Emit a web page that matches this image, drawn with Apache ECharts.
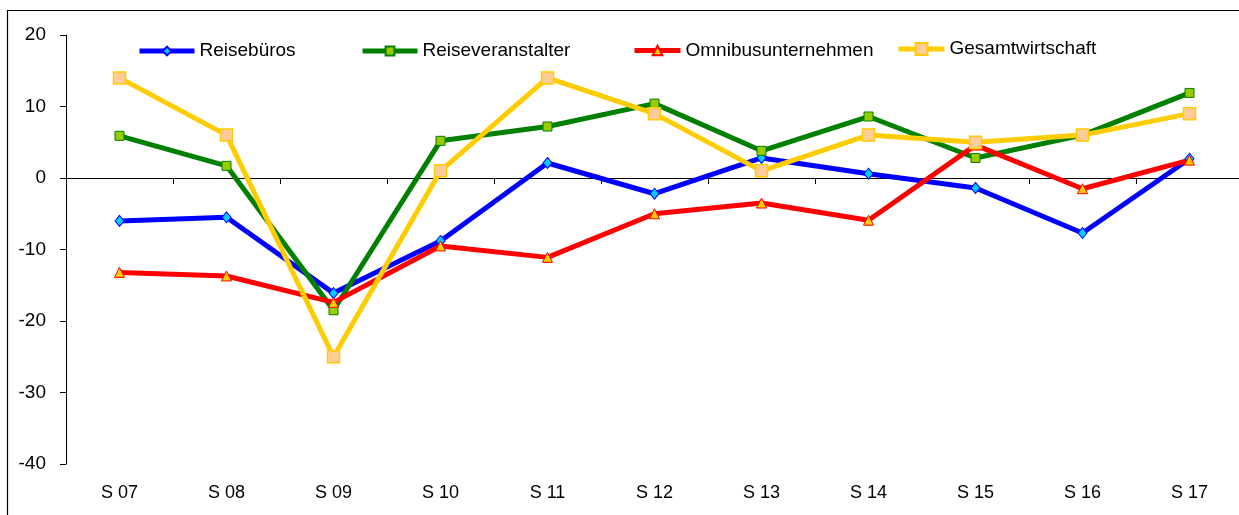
<!DOCTYPE html>
<html>
<head>
<meta charset="utf-8">
<script src="https://cdn.jsdelivr.net/npm/echarts@6/dist/echarts.min.js"></script>
<style>
    html, body { margin: 0; padding: 0; background: #fff; overflow: hidden; }
    #main { width: 1260px; height: 515px; }
</style>
</head>
<body>
<div id="main"></div>
<script type="text/javascript">
    // Daten
    var categories = ['S 07', 'S 08', 'S 09', 'S 10', 'S 11', 'S 12', 'S 13', 'S 14', 'S 15', 'S 16', 'S 17'];
    var reisebueros = [-6.0, -5.5, -16.1, -8.8, 2.1, -2.2, 2.8, 0.6, -1.4, -7.7, 2.7];
    var reiseveranstalter = [5.9, 1.7, -18.5, 5.2, 7.2, 10.4, 3.8, 8.6, 2.8, 6.0, 11.9];
    var omnibus = [-13.2, -13.7, -17.4, -9.5, -11.1, -5.0, -3.5, -5.9, 4.6, -1.5, 2.5];
    var gesamt = [14, 6, -25, 1, 14, 9, 1, 6, 5, 6, 9];

    var myChart = echarts.init(document.getElementById('main'));

    var font = 'Liberation Sans, Arial, sans-serif';

    // eine Legende pro Reihe, damit die Positionen stimmen
    function legendItem(name, left, w, h) {
        return {
            data: [name],
            left: left,
            top: 47 - h / 2,
            padding: 0,
            itemWidth: w,
            itemHeight: h,
            lineStyle: { width: 5 },
            textStyle: { fontSize: 19, color: '#000', fontFamily: font }
        };
    }

    option = {
        animation: false,
        textStyle: { fontFamily: font },
        graphic: [{
            type: 'rect',
            shape: { x: 7.5, y: 10.5, width: 1400, height: 700 },
            style: { fill: 'none', stroke: '#000', lineWidth: 1.2 },
            silent: true
        }],
        legend: [
            legendItem('Reisebüros', 137, 55, 11),
            legendItem('Reiseveranstalter', 360, 55, 11),
            legendItem('Omnibusunternehmen', 632, 46, 12),
            legendItem('Gesamtwirtschaft', 896, 46, 15)
        ],
        grid: {
            left: 66,
            right: 17,
            top: 35,
            bottom: 51
        },
        xAxis: [{
            type: 'category',
            data: categories,
            axisLine: { onZero: true, lineStyle: { color: '#000', width: 1 } },
            axisTick: { show: true, length: 6, lineStyle: { color: '#000' } },
            axisLabel: { show: false }
        }, {
            type: 'category',
            data: categories,
            position: 'bottom',
            axisLine: { show: false, onZero: false },
            axisTick: { show: false },
            axisLabel: { margin: 20, fontSize: 18, color: '#000', fontFamily: font }
        }],
        yAxis: {
            type: 'value',
            min: -40,
            max: 20,
            interval: 10,
            splitLine: { show: false },
            axisLine: { show: true, lineStyle: { color: '#000', width: 1 } },
            axisTick: { show: true, length: 6, lineStyle: { color: '#000' } },
            axisLabel: { margin: 20, fontSize: 19, color: '#000', fontFamily: font }
        },
        series: [{
            name: 'Reisebüros',
            type: 'line',
            data: reisebueros,
            symbol: 'diamond',
            symbolSize: [9, 11],
            lineStyle: { color: '#0000FF', width: 5 },
            itemStyle: { color: '#00CCFF', borderColor: '#0000FF', borderWidth: 1 }
        }, {
            name: 'Reiseveranstalter',
            type: 'line',
            data: reiseveranstalter,
            symbol: 'rect',
            symbolSize: 9,
            lineStyle: { color: '#008000', width: 5 },
            itemStyle: { color: '#99CC00', borderColor: '#008000', borderWidth: 1 }
        }, {
            name: 'Omnibusunternehmen',
            type: 'line',
            data: omnibus,
            symbol: 'triangle',
            symbolSize: 10,
            lineStyle: { color: '#FF0000', width: 5 },
            itemStyle: { color: '#FFCC00', borderColor: '#FF0000', borderWidth: 1 }
        }, {
            name: 'Gesamtwirtschaft',
            type: 'line',
            data: gesamt,
            symbol: 'rect',
            symbolSize: 12,
            lineStyle: { color: '#FFCC00', width: 5 },
            itemStyle: { color: '#FFCC99', borderColor: '#FFCC00', borderWidth: 1.5 }
        }]
    };

    myChart.setOption(option);
</script>
</body>
</html>
